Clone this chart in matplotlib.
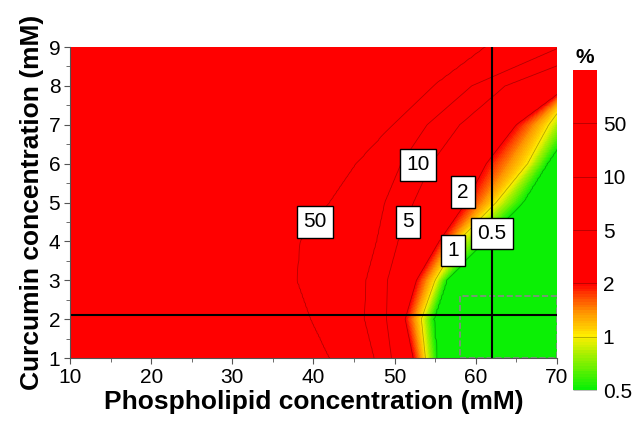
import numpy as np
import matplotlib
matplotlib.use('Agg')
import matplotlib.pyplot as plt
from matplotlib.colors import LinearSegmentedColormap
from matplotlib.patches import Rectangle

plt.rcParams['font.family'] = ['Liberation Sans', 'DejaVu Sans']

# contour levels (%) and the phospholipid value where each one crosses
# a row of curcumin concentration
levels = [50, 10, 5, 2, 1, 0.5]
curcumin_rows = [1, 2, 3, 4, 5, 6, 7, 8, 9]
x_50 = [42.0, 39.7, 38.0, 38.4, 42.0, 45.3, 49.8, 54.8, 61.2]
x_10 = [47.5, 46.3, 46.5, 47.8, 48.8, 50.8, 54.0, 59.5, 70.5]
x_5 = [49.6, 49.0, 49.1, 50.4, 52.3, 54.5, 58.0, 63.6, 76.0]
x_2 = [52.3, 51.3, 52.7, 55.5, 58.8, 61.3, 65.0, 71.5, 78.0]
x_1 = [53.8, 53.3, 55.0, 57.8, 62.5, 66.4, 69.0, 72.5, 80.0]
x_05 = [55.2, 54.8, 56.4, 61.0, 65.8, 68.8, 72.0, 76.0, 82.0]

# boxed contour labels
label_text = ['50', '10', '5', '2', '1', '0.5']
label_x = [40.2, 52.9, 51.6, 58.4, 57.2, 62.0]
label_y = [4.5, 5.97, 4.5, 5.27, 3.77, 4.2]

# cross-hair and dashed region
cut_x = 62
cut_y = 2.1
box_x = [58, 70]
box_y = [1, 2.6]

# build a level-index field: 5 on the 50% line ... 0 on the 0.5% line
xs = np.linspace(10, 70, 301)
ys = np.linspace(1, 9, 201)
crossings = [x_50, x_10, x_5, x_2, x_1, x_05]
idx = np.arange(len(levels))[::-1]
line_x = np.array([np.interp(ys, curcumin_rows, c) for c in crossings])
T = np.array([np.interp(xs, np.r_[0, line_x[:, k], 100], np.r_[6, idx, -1])
              for k in range(len(ys))])

cmap = LinearSegmentedColormap.from_list('pct', [
    (0.0, '#05f005'), (0.5 / 6, '#80f000'), (1 / 6, '#ffee00'),
    (1.5 / 6, '#ff8800'), (2 / 6, '#ff0000'), (1.0, '#ff0000')])

fig = plt.figure(figsize=(6.34, 4.21), dpi=100)
ax = fig.add_axes([0.1104, 0.1496, 0.7681, 0.7387])
cax = fig.add_axes([0.904, 0.0736, 0.0379, 0.760])

cf = ax.contourf(xs, ys, np.clip(T, 0, 6), levels=np.linspace(0, 6, 121), cmap=cmap)
cl = ax.contour(xs, ys, T, levels=list(range(len(levels))), colors='k',
                linewidths=0.6, alpha=0.3)

for s, lx, ly in zip(label_text, label_x, label_y):
    ax.text(lx, ly, s, ha='center', va='center', fontsize=15,
            bbox=dict(boxstyle='square,pad=0.3', fc='white', ec='black', lw=1))

ax.axvline(cut_x, color='black', lw=1.5)
ax.axhline(cut_y, color='black', lw=1.5)
ax.add_patch(Rectangle((box_x[0], box_y[0]), box_x[1] - box_x[0], box_y[1] - box_y[0],
                       fill=False, ec='#888888', lw=1.2, ls='--'))

ax.set_xlim(10, 70)
ax.set_ylim(1, 9)
ax.set_xticks(range(10, 71, 10))
ax.set_xticks(range(15, 70, 10), minor=True)
ax.set_yticks(range(1, 10))
ax.set_yticks(np.arange(1.5, 9, 1), minor=True)
ax.tick_params(which='both', direction='out', colors='#555555', labelcolor='black',
               labelsize=15)
ax.tick_params(which='major', length=4, pad=3)
ax.tick_params(which='minor', length=3)
for side in ['top', 'right']:
    ax.spines[side].set_visible(False)
for side in ['left', 'bottom']:
    ax.spines[side].set_color('#555555')
ax.set_xlabel('Phospholipid concentration (mM)', fontsize=19, fontweight='bold', labelpad=2)
ax.set_ylabel('Curcumin concentration (mM)', fontsize=19, fontweight='bold', labelpad=3)

cb = fig.colorbar(cf, cax=cax, ticks=list(range(len(levels))))
cb.set_ticklabels([str(v) for v in levels[::-1]])
cb.add_lines(cl)
cb.outline.set_visible(False)
cb.ax.tick_params(length=0, labelsize=15, pad=4)
cax.set_title('%', fontsize=15, fontweight='bold', pad=5)

fig.savefig('out.png', dpi=100)
